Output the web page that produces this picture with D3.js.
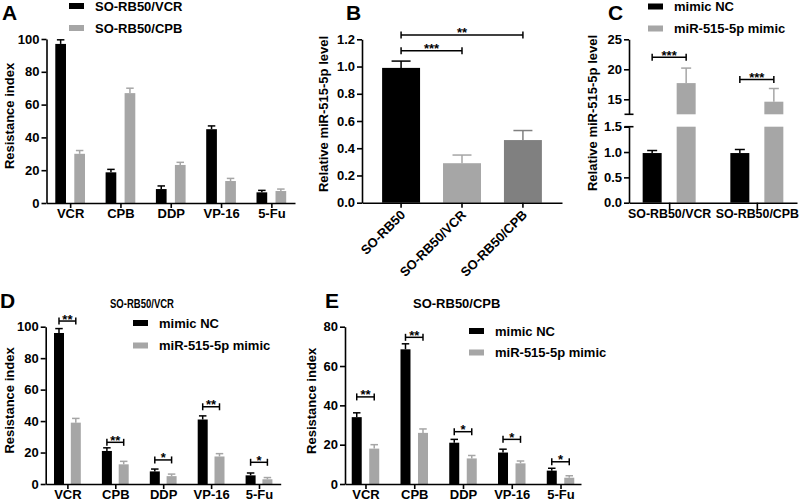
<!DOCTYPE html>
<html><head><meta charset="utf-8">
<script src="https://cdn.jsdelivr.net/npm/d3@7/dist/d3.min.js"></script>
<style>
body{margin:0;background:#fff}
svg text{font-family:"Liberation Sans",Arial,sans-serif;font-weight:bold}
</style></head><body>
<svg id="c" width="799" height="503"></svg>
<script>
// ---------------- DATA ----------------
const drugs = ["VCR", "CPB", "DDP", "VP-16", "5-Fu"];

// Panel A
const aSeriesNames = ["SO-RB50/VCR", "SO-RB50/CPB"];
const aVCR = [97, 18.7, 8.5, 45, 6.5];
const aVCRerr = [2.5, 1.8, 1.9, 2, 1.2];
const aCPB = [30, 67, 23.2, 13.4, 7.3];
const aCPBerr = [2, 3, 1.6, 1.6, 1.2];
const aTicks = [0, 20, 40, 60, 80, 100];

// Panel B
const bCats = ["SO-RB50", "SO-RB50/VCR", "SO-RB50/CPB"];
const bVals = [0.99, 0.29, 0.46];
const bErr = [0.05, 0.06, 0.07];
const bTicks = [0, 0.2, 0.4, 0.6, 0.8, 1.0, 1.2];
const bSig = [{from: 0, to: 1, label: "***", at: 1.115}, {from: 0, to: 2, label: "**", at: 1.232}];

// Panel C
const cGroups = ["SO-RB50/VCR", "SO-RB50/CPB"];
const cSeriesNames = ["mimic NC", "miR-515-5p mimic"];
const cNC = [0.98, 0.98];
const cNCerr = [0.05, 0.07];
const cMimic = [17.7, 14.6];
const cMimicErr = [2.5, 2.2];
const cTicksLow = [0, 0.5, 1.0, 1.5];
const cTicksHigh = [15, 20, 25];
const cSig = ["***", "***"];
const cSigAt = [22, 18.3];

// Panel D (SO-RB50/VCR)
const dNC = [96, 21, 8, 41, 5.5];
const dNCerr = [2.8, 2, 1.5, 2.3, 1.5];
const dMimic = [39, 12.5, 5, 17.5, 3];
const dMimicErr = [2.7, 1.9, 1.3, 1.8, 1.1];
const dSig = ["**", "**", "*", "**", "*"];
const dSigAt = [103.6, 26.5, 15.3, 49.1, 13.8];
const dTicks = [0, 20, 40, 60, 80, 100];

// Panel E (SO-RB50/CPB)
const eNC = [34, 68.5, 21, 16, 6.8];
const eNCerr = [2.2, 2.8, 1.7, 1.7, 1.2];
const eMimic = [18, 26, 13, 10.5, 3.2];
const eMimicErr = [2, 2, 1.5, 1.2, 1];
const eSig = ["**", "**", "*", "*", "*"];
const eSigAt = [44.3, 74.6, 26.6, 22.7, 11.3];
const eTicks = [0, 20, 40, 60, 80];

// ---------------- DRAWING ----------------
const BLACK = "#000000", GRAY = "#a6a6a6", DGRAY = "#808080";
const FS = 13;
const svg = d3.select("#c");

function styleAxis(g) {
  g.attr("font-size", FS).attr("font-family", null);
  g.selectAll("path.domain").attr("stroke", "#000").attr("stroke-width", 1.6);
  g.selectAll(".tick line").attr("stroke", "#000").attr("stroke-width", 1.6);
  g.selectAll(".tick text").attr("fill", "#000");
  return g;
}

function errorBar(g, cx, yTop, yEnd, cw, color) {
  g.append("line").attr("x1", cx).attr("x2", cx).attr("y1", yTop).attr("y2", yEnd)
    .attr("stroke", color).attr("stroke-width", 1.5);
  g.append("line").attr("x1", cx - cw / 2).attr("x2", cx + cw / 2).attr("y1", yEnd).attr("y2", yEnd)
    .attr("stroke", color).attr("stroke-width", 1.5);
}

function bracket(g, xa, xb, yy, label) {
  g.append("line").attr("x1", xa).attr("x2", xb).attr("y1", yy).attr("y2", yy).attr("stroke", "#000").attr("stroke-width", 1.5);
  [xa, xb].forEach(xx => g.append("line").attr("x1", xx).attr("x2", xx).attr("y1", yy - 3.5).attr("y2", yy + 3.5)
    .attr("stroke", "#000").attr("stroke-width", 1.5));
  g.append("text").attr("x", (xa + xb) / 2).attr("y", yy + 2.5).attr("text-anchor", "middle")
    .attr("font-size", FS).text(label);
}

function panelLabel(txt, x, y) {
  svg.append("text").attr("x", x).attr("y", y).attr("font-size", 21).text(txt);
}

function yTitle(txt, x, y) {
  svg.append("text").attr("transform", `translate(${x},${y}) rotate(-90)`)
    .attr("text-anchor", "middle").attr("font-size", FS).text(txt);
}

function legend(names, colors, x, y0, dy) {
  const g = svg.append("g");
  names.forEach((n, i) => {
    const yy = y0 + i * dy;
    g.append("rect").attr("x", x).attr("y", yy - 3).attr("width", 15).attr("height", 6).attr("fill", colors[i]);
    g.append("text").attr("x", x + 26).attr("y", yy).attr("dy", "0.35em").attr("font-size", FS).text(n);
  });
}

function grouped(cfg) {
  const g = svg.append("g");
  const x = d3.scalePoint().domain(drugs).range([cfg.left, cfg.right]).padding(cfg.pad);
  const y = d3.scaleLinear().domain([0, cfg.ymax]).range([cfg.bottom, cfg.top]);
  cfg.series.forEach((s, si) => {
    const off = (si === 0 ? -1 : 1) * cfg.off;
    const sg = g.append("g");
    sg.selectAll("rect").data(drugs).join("rect")
      .attr("x", d => x(d) + off - cfg.bw / 2).attr("width", cfg.bw)
      .attr("y", (d, i) => y(s.vals[i])).attr("height", (d, i) => y(0) - y(s.vals[i]))
      .attr("fill", s.color);
    drugs.forEach((d, i) => errorBar(sg, x(d) + off, y(s.vals[i]), y(s.vals[i] + s.errs[i]), 7.5, s.color));
  });
  if (cfg.sig) {
    drugs.forEach((d, i) => bracket(g, x(d) - cfg.off, x(d) + cfg.off, y(cfg.sigAt[i]), cfg.sig[i]));
  }
  g.append("g").attr("transform", `translate(0,${cfg.bottom})`)
    .call(d3.axisBottom(x).tickSize(5).tickSizeOuter(0).tickPadding(1)).call(styleAxis);
  g.append("g").attr("transform", `translate(${cfg.left},0)`)
    .call(d3.axisLeft(y).tickValues(cfg.ticks).tickSize(5).tickSizeOuter(0).tickPadding(2).tickFormat(d3.format("d")))
    .call(styleAxis);
}

// ---- Panel A ----
grouped({left: 46.5, right: 295, top: 39, bottom: 203, ymax: 100, pad: 0.47, off: 9.5, bw: 10.7,
  ticks: aTicks,
  series: [{vals: aVCR, errs: aVCRerr, color: BLACK}, {vals: aCPB, errs: aCPBerr, color: GRAY}]});
panelLabel("A", 2, 20);
yTitle("Resistance index", 13.5, 116);
legend(aSeriesNames, [BLACK, GRAY], 69, 6, 22);

// ---- Panel B ----
(function () {
  const g = svg.append("g");
  const left = 362, right = 562, top = 39.3, bottom = 202.7;
  const x = d3.scaleBand().domain(bCats).range([left, right]).paddingInner(0.377).paddingOuter(0.33);
  const y = d3.scaleLinear().domain([0, 1.2]).range([bottom, top]);
  const colors = [BLACK, GRAY, DGRAY];
  g.selectAll("rect.bar").data(bCats).join("rect").attr("class", "bar")
    .attr("x", d => x(d)).attr("width", x.bandwidth())
    .attr("y", (d, i) => y(bVals[i])).attr("height", (d, i) => y(0) - y(bVals[i]))
    .attr("fill", (d, i) => colors[i]);
  bCats.forEach((d, i) => errorBar(g, x(d) + x.bandwidth() / 2, y(bVals[i]), y(bVals[i] + bErr[i]), 19, colors[i]));
  bSig.forEach(s => bracket(g, x(bCats[s.from]) + x.bandwidth() / 2, x(bCats[s.to]) + x.bandwidth() / 2, y(s.at), s.label));
  const ax = g.append("g").attr("transform", `translate(0,${bottom})`)
    .call(d3.axisBottom(x).tickSize(5).tickSizeOuter(0)).call(styleAxis);
  ax.selectAll(".tick text").attr("x", 0).attr("y", 0).attr("dy", 0)
    .attr("text-anchor", "end").attr("transform", "translate(5,13) rotate(-45)");
  g.append("g").attr("transform", `translate(${left},0)`)
    .call(d3.axisLeft(y).tickValues(bTicks).tickSize(5).tickSizeOuter(0).tickPadding(2).tickFormat(d3.format(".1f")))
    .call(styleAxis);
  panelLabel("B", 346, 20);
  yTitle("Relative miR-515-5p level", 327.5, 114);
})();

// ---- Panel C ----
(function () {
  const g = svg.append("g");
  const left = 629, right = 797, bottom = 202.7;
  const x = d3.scalePoint().domain(cGroups).range([left, right]).padding(0.458);
  const yLow = d3.scaleLinear().domain([0, 1.5]).range([bottom, 126.7]);
  const yHigh = d3.scaleLinear().domain([12.5, 25]).range([114.3, 39.3]);
  const bw = 19, off = 17;
  cGroups.forEach((d, i) => {
    const cx = x(d) - off;
    g.append("rect").attr("x", cx - bw / 2).attr("width", bw).attr("y", yLow(cNC[i]))
      .attr("height", yLow(0) - yLow(cNC[i])).attr("fill", BLACK);
    errorBar(g, cx, yLow(cNC[i]), yLow(cNC[i] + cNCerr[i]), 10, BLACK);
  });
  cGroups.forEach((d, i) => {
    const cx = x(d) + off;
    g.append("rect").attr("x", cx - bw / 2).attr("width", bw).attr("y", yLow(1.5))
      .attr("height", yLow(0) - yLow(1.5)).attr("fill", GRAY);
    g.append("rect").attr("x", cx - bw / 2).attr("width", bw).attr("y", yHigh(cMimic[i]))
      .attr("height", yHigh(12.5) - yHigh(cMimic[i])).attr("fill", GRAY);
    errorBar(g, cx, yHigh(cMimic[i]), yHigh(cMimic[i] + cMimicErr[i]), 10, GRAY);
    bracket(g, x(d) - off, x(d) + off, yHigh(cSigAt[i]), cSig[i]);
  });
  const ax = g.append("g").attr("transform", `translate(0,${bottom})`)
    .call(d3.axisBottom(x).tickSize(7).tickSizeOuter(0).tickPadding(0)).call(styleAxis);
  ax.attr("font-size", 12.4);
  g.append("g").attr("transform", `translate(${left},0)`)
    .call(d3.axisLeft(yLow).tickValues(cTicksLow).tickSize(5).tickSizeOuter(0).tickPadding(2).tickFormat(d3.format(".1f")))
    .call(styleAxis);
  g.append("g").attr("transform", `translate(${left},0)`)
    .call(d3.axisLeft(yHigh).tickValues(cTicksHigh).tickSize(5).tickSizeOuter(0).tickPadding(2).tickFormat(d3.format("d")))
    .call(styleAxis);
  [yLow(1.5), yHigh(12.5)].forEach(yy => g.append("line").attr("x1", left - 4.5).attr("x2", left + 4.5)
    .attr("y1", yy).attr("y2", yy).attr("stroke", "#000").attr("stroke-width", 1.6));
  panelLabel("C", 608, 20);
  yTitle("Relative miR-515-5p level", 596.5, 113);
  legend(cSeriesNames, [BLACK, GRAY], 648, 6.5, 22);
})();

// ---- Panel D ----
grouped({left: 45.7, right: 280.7, top: 326.7, bottom: 484, ymax: 100, pad: 0.453, off: 8.4, bw: 10,
  ticks: dTicks, sig: dSig, sigAt: dSigAt,
  series: [{vals: dNC, errs: dNCerr, color: BLACK}, {vals: dMimic, errs: dMimicErr, color: GRAY}]});
panelLabel("D", 0, 308);
yTitle("Resistance index", 13.5, 400.5);
svg.append("text").attr("x", 110).attr("y", 303).attr("dy", "0.35em").attr("font-size", FS)
  .attr("textLength", 64).attr("lengthAdjust", "spacingAndGlyphs").text("SO-RB50/VCR");
legend(cSeriesNames, [BLACK, GRAY], 133, 323, 22.5);

// ---- Panel E ----
grouped({left: 345, right: 581, top: 326.7, bottom: 484, ymax: 80, pad: 0.42, off: 8.75, bw: 10,
  ticks: eTicks, sig: eSig, sigAt: eSigAt,
  series: [{vals: eNC, errs: eNCerr, color: BLACK}, {vals: eMimic, errs: eMimicErr, color: GRAY}]});
panelLabel("E", 325, 308);
yTitle("Resistance index", 316, 400.8);
svg.append("text").attr("x", 413).attr("y", 303).attr("dy", "0.35em").attr("font-size", FS).text("SO-RB50/CPB");
legend(cSeriesNames, [BLACK, GRAY], 469, 331, 21.5);
</script>
</body></html>
